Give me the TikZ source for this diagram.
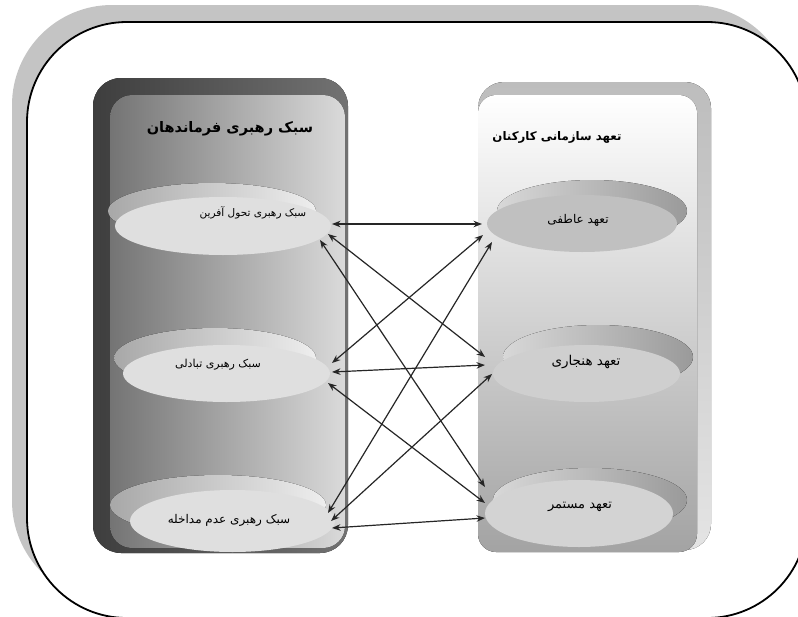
\documentclass[tikz,border=0pt]{standalone}
\usepackage{fontspec}
\usetikzlibrary{arrows.meta,shapes.geometric}
\newfontfamily\fa[Script=Arabic]{DejaVu Sans}
\TeXXeTstate=1
\definecolor{frameshadow}{HTML}{C4C4C4}
\definecolor{lcolouterA}{HTML}{3E3E3E}
\definecolor{lcolouterB}{HTML}{727272}
\definecolor{lcolinnerA}{HTML}{747474}
\definecolor{lcolinnerB}{HTML}{DADADA}
\definecolor{rcolouterA}{HTML}{BDBDBD}
\definecolor{rcolouterB}{HTML}{E4E4E4}
\definecolor{rcolinnerB}{HTML}{A3A3A3}
\definecolor{lrimA}{HTML}{A8A8A8}
\definecolor{lrimB}{HTML}{EEEEEE}
\definecolor{lface}{HTML}{DFDFDF}
\definecolor{rrimA}{HTML}{D8D8D8}
\definecolor{rrimB}{HTML}{9A9A9A}
\definecolor{rfaceA}{HTML}{C0C0C0}
\definecolor{rfaceB}{HTML}{CFCFCF}
\definecolor{rfaceC}{HTML}{D3D3D3}
\begin{document}
\begin{tikzpicture}[x=1pt,y=-1pt,
  biarrow/.style={{Stealth[length=8.5pt,width=6.5pt]}-{Stealth[length=8.5pt,width=6.5pt]}, line width=1.2pt, black!85},
  face/.style={ellipse, draw=none, inner sep=0pt},
  lbl/.style={inner sep=0pt, font=\fa\fontsize{#1}{#1}\selectfont},
  ttl/.style={inner sep=0pt, font=\fa\bfseries\fontsize{#1}{#1}\selectfont}]
\useasboundingbox (0,0) rectangle (798,616);
\clip (0,0) rectangle (798,616);
% outer frame
\fill[frameshadow, rounded corners=100pt] (12,5) rectangle (792,601);
\draw[fill=white, line width=1.8pt, rounded corners=100pt] (27,22) rectangle (807,618);
% left column
\fill[left color=lcolouterA, right color=lcolouterB, rounded corners=28pt] (93,78) rectangle (348,553);
\fill[left color=lcolinnerA, right color=lcolinnerB, rounded corners=22pt] (110,95) rectangle (345,548);
% right column
\fill[top color=rcolouterA, bottom color=rcolouterB, rounded corners=26pt] (478,82) rectangle (711,550);
\fill[top color=white, bottom color=rcolinnerB, rounded corners=18pt] (478,95) rectangle (697,552);
% titles
\node[ttl=14.5] (tl) at (230,129) {\beginR سبک رهبری فرماندهان\endR};
\node[ttl=11.8] (tr) at (557,137) {\beginR تعهد سازمانی کارکنان\endR};
% left discs
\fill[left color=lrimA, right color=lrimB] (212,211) ellipse [x radius=104, y radius=28];
\node[face, fill=lface, minimum width=216pt, minimum height=58pt] (l1) at (223,226) {};
\fill[left color=lrimA, right color=lrimB] (215,358) ellipse [x radius=101, y radius=30];
\node[face, fill=lface, minimum width=207pt, minimum height=57pt] (l2) at (226.5,373.5) {};
\fill[left color=lrimA, right color=lrimB] (218,505) ellipse [x radius=108, y radius=30];
\node[face, fill=lface, minimum width=205pt, minimum height=62pt] (l3) at (232.5,521) {};
% right discs
\fill[left color=rrimA, right color=rrimB] (592,211) ellipse [x radius=95, y radius=31];
\node[face, fill=rfaceA, minimum width=190pt, minimum height=57pt] (r1) at (582,223.5) {};
\fill[left color=rrimA, right color=rrimB] (598,357) ellipse [x radius=95, y radius=32];
\node[face, fill=rfaceB, minimum width=187pt, minimum height=57pt] (r2) at (586.5,373.5) {};
\fill[left color=rrimA, right color=rrimB] (590,500) ellipse [x radius=97, y radius=32];
\node[face, fill=rfaceC, minimum width=188pt, minimum height=67pt] (r3) at (579,513.5) {};
% disc labels
\node[lbl=10.5] (t1) at (253,213) {\beginR سبک رهبری تحول آفرین\endR};
\node[lbl=11] (t2) at (218,365) {\beginR سبک رهبری تبادلی\endR};
\node[lbl=12] (t3) at (229,520) {\beginR سبک رهبری عدم مداخله\endR};
\node[lbl=12] (u1) at (578,220) {\beginR تعهد عاطفی\endR};
\node[lbl=13.5] (u2) at (586,362) {\beginR تعهد هنجاری\endR};
\node[lbl=13] (u3) at (580,507) {\beginR تعهد مستمر\endR};
% arrow end points
\coordinate (l1a) at (332,224); \coordinate (l1b) at (328,234); \coordinate (l1c) at (320,240);
\coordinate (l2a) at (332,363); \coordinate (l2b) at (332,372); \coordinate (l2c) at (328,383);
\coordinate (l3a) at (328,513); \coordinate (l3b) at (331,521); \coordinate (l3c) at (332,528);
\coordinate (r1a) at (482,224); \coordinate (r1b) at (483,235); \coordinate (r1c) at (492,242);
\coordinate (r2a) at (485,357); \coordinate (r2b) at (485,365); \coordinate (r2c) at (492,374);
\coordinate (r3a) at (485,487); \coordinate (r3b) at (485,503); \coordinate (r3c) at (485,518);
% connectors
\draw[biarrow] (l1a) -- (r1a);
\draw[biarrow] (l1b) -- (r2a);
\draw[biarrow] (l1c) -- (r3a);
\draw[biarrow] (l2a) -- (r1b);
\draw[biarrow] (l2b) -- (r2b);
\draw[biarrow] (l2c) -- (r3b);
\draw[biarrow] (l3a) -- (r1c);
\draw[biarrow] (l3b) -- (r2c);
\draw[biarrow] (l3c) -- (r3c);
\end{tikzpicture}
\end{document}
